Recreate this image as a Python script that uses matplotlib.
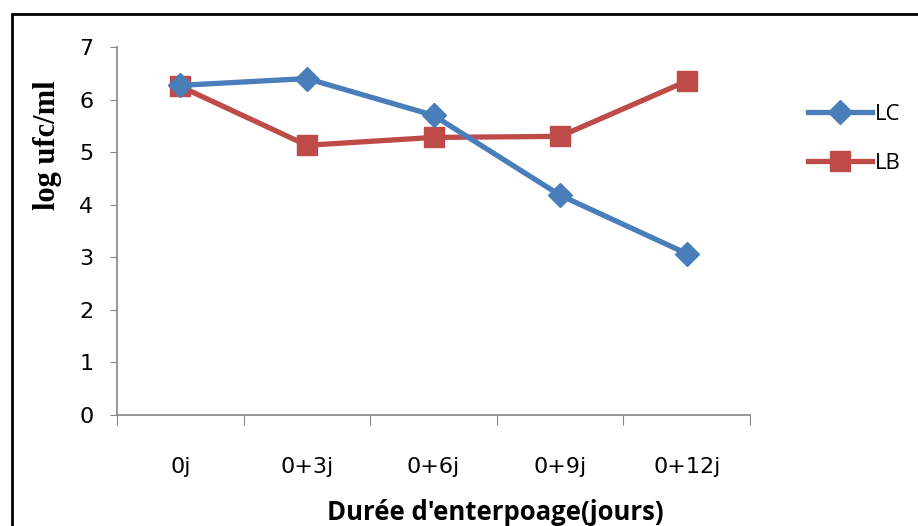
import numpy as np
import matplotlib.pyplot as plt
from matplotlib.patches import Rectangle
from matplotlib.ticker import FixedLocator

jours = ['0j', '0+3j', '0+6j', '0+9j', '0+12j']
lc = [6.27, 6.40, 5.70, 4.18, 3.07]
lb = [6.25, 5.13, 5.28, 5.30, 6.35]

fig = plt.figure(figsize=(9.18, 5.26), dpi=100)
ax = fig.add_axes([117/918, 111/526, 633/918, 368/526])

x = np.arange(len(jours))
ax.plot(x, lc, color='#4A7EBB', lw=3.8, marker='D', ms=12, label='LC', zorder=3)
ax.plot(x, lb, color='#BE4B48', lw=3.8, marker='s', ms=14, label='LB', zorder=2)

ax.set_xlim(-0.5, len(jours) - 0.5)
ax.set_ylim(0, 7)
ax.set_yticks(range(0, 8))
ax.tick_params(axis='y', direction='out', length=5, color='#868686', pad=12,
               labelsize=16)
ax.xaxis.set_major_locator(FixedLocator(np.arange(-0.5, len(jours), 1)))
ax.xaxis.set_minor_locator(FixedLocator(x))
ax.set_xticklabels([], minor=False)
ax.set_xticklabels(jours, minor=True)
ax.tick_params(axis='x', which='major', direction='out', length=7, color='#868686')
ax.tick_params(axis='x', which='minor', length=0, pad=30, labelsize=16)

for s in ['top', 'right']:
    ax.spines[s].set_visible(False)
for s in ['left', 'bottom']:
    ax.spines[s].set_color('#868686')
    ax.spines[s].set_linewidth(1.2)

fig.text(48/918, 1 - 145/526, 'log ufc/ml', rotation=90, ha='center', va='center',
         fontfamily='Liberation Serif', fontweight='bold', fontsize=22)
fig.text(495/918, 1 - 512/526, "Durée d'enterpoage(jours)", ha='center', va='center',
         fontfamily='Open Sans', fontweight='bold', fontsize=18.5)

leg = ax.legend(loc='upper left', bbox_to_anchor=(1.06, 0.90), frameon=False,
                handlelength=2.9, labelspacing=1.25, handletextpad=0.1,
                prop={'family': 'Open Sans', 'size': 16})

# cadre noir autour du graphique
fig.patches.append(Rectangle((12/918, -0.1), 1.2, (526 - 14)/526 + 0.1,
                             transform=fig.transFigure, fill=False,
                             edgecolor='black', lw=2, clip_on=False))

fig.savefig('out.png', dpi=100)
